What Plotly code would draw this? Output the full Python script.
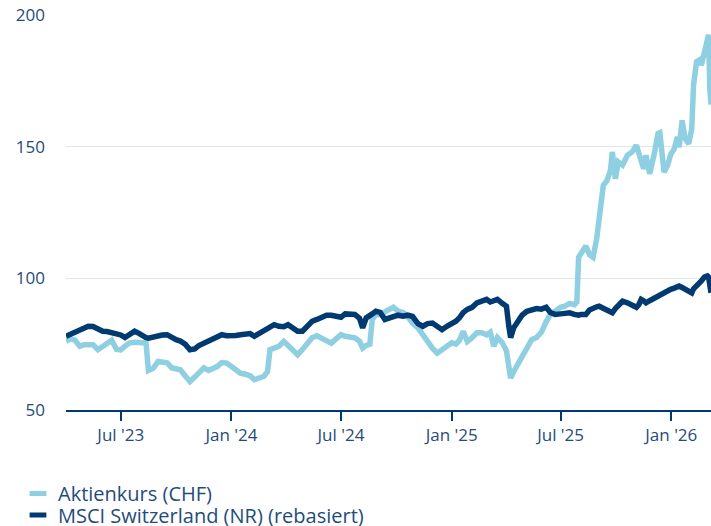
import plotly.graph_objects as go

dates = [
    "2023-04-01","2023-04-08","2023-04-16","2023-04-24",
    "2023-05-01","2023-05-08","2023-05-16","2023-05-24",
    "2023-06-01","2023-06-08","2023-06-16","2023-06-24",
    "2023-07-01","2023-07-08","2023-07-16","2023-07-24",
    "2023-08-01","2023-08-08","2023-08-12","2023-08-16","2023-08-24",
    "2023-09-01","2023-09-08","2023-09-16","2023-09-24",
    "2023-10-01","2023-10-08","2023-10-16","2023-10-24",
    "2023-11-01","2023-11-08","2023-11-16","2023-11-24",
    "2023-12-01","2023-12-08","2023-12-16","2023-12-24",
    "2024-01-01","2024-01-08","2024-01-16","2024-01-24",
    "2024-02-01","2024-02-08","2024-02-16","2024-02-24",
    "2024-03-01","2024-03-05","2024-03-12","2024-03-20","2024-03-28",
    "2024-04-04","2024-04-12","2024-04-20","2024-04-28",
    "2024-05-06","2024-05-14","2024-05-22","2024-05-30",
    "2024-06-07","2024-06-15","2024-06-23",
    "2024-07-01","2024-07-08","2024-07-16","2024-07-24",
    "2024-08-01","2024-08-06","2024-08-12","2024-08-18","2024-08-22","2024-08-28",
    "2024-09-04","2024-09-12","2024-09-20","2024-09-26",
    "2024-10-04","2024-10-12","2024-10-20","2024-10-28",
    "2024-11-06","2024-11-14","2024-11-22","2024-11-30",
    "2024-12-08","2024-12-16","2024-12-24",
    "2025-01-01","2025-01-08","2025-01-14","2025-01-20","2025-01-27",
    "2025-02-04","2025-02-12","2025-02-20","2025-02-28",
    "2025-03-06","2025-03-12","2025-03-18","2025-03-26",
    "2025-04-02","2025-04-06","2025-04-09","2025-04-14","2025-04-22","2025-04-28",
    "2025-05-06","2025-05-14","2025-05-22","2025-05-30",
    "2025-06-07","2025-06-14","2025-06-22",
    "2025-07-01","2025-07-08","2025-07-16","2025-07-24","2025-07-28","2025-07-31",
    "2025-08-04","2025-08-12","2025-08-18","2025-08-24","2025-08-30",
    "2025-09-03","2025-09-07","2025-09-10","2025-09-16","2025-09-22","2025-09-25","2025-09-30",
    "2025-10-05","2025-10-12","2025-10-20","2025-10-28",
    "2025-11-04","2025-11-08","2025-11-12","2025-11-16","2025-11-20","2025-11-26",
    "2025-12-04","2025-12-10","2025-12-13","2025-12-17","2025-12-20","2025-12-26",
    "2025-12-31","2026-01-06","2026-01-11","2026-01-14","2026-01-19","2026-01-24","2026-01-30",
    "2026-02-04","2026-02-07","2026-02-12","2026-02-17","2026-02-20","2026-02-25",
    "2026-03-02","2026-03-04","2026-03-06","2026-03-08",
]

aktienkurs = [
    76.1, 77.0, 76.5, 74.2,
    74.8, 74.8, 74.8, 72.9,
    74.2, 75.2, 76.5, 73.0,
    72.8, 74.2, 75.5, 75.7,
    75.7, 75.6, 75.4, 65.0, 65.8,
    68.4, 68.0, 67.9, 66.0,
    65.8, 65.3, 63.0, 60.8,
    62.5, 64.5, 66.0, 65.0,
    65.8, 66.5, 68.0, 67.8,
    66.5, 65.5, 64.0, 63.6,
    63.0, 61.5, 62.2, 62.8,
    64.6, 72.9, 73.5, 74.2, 76.1,
    74.5, 72.5, 71.0, 73.0,
    75.0, 77.4, 78.2, 77.3,
    76.0, 75.4, 77.0,
    78.6, 78.0, 77.6, 77.4,
    76.1, 73.5, 74.5, 75.0, 84.4, 86.3,
    86.3, 87.1, 88.0, 89.0,
    87.5, 87.0, 85.5, 83.0,
    81.2, 78.5, 75.5, 73.5,
    71.6, 73.0, 74.2,
    75.5, 75.0, 76.5, 79.9, 76.0,
    77.5, 79.3, 79.3, 78.5,
    79.5, 74.2, 77.5, 75.6,
    72.5, 65.5, 62.1, 64.6, 67.8, 70.5,
    72.9, 76.7, 77.5, 79.5,
    83.5, 86.3, 87.5,
    89.0, 89.4, 90.5, 90.0, 91.0, 108.0,
    109.8, 112.3, 109.0, 108.0, 115.0,
    122.5, 128.0, 135.3, 137.1, 141.0, 148.0, 137.8,
    144.2, 143.0, 146.7, 148.0,
    150.5, 147.0, 145.4, 141.6, 146.7, 139.7,
    147.5, 155.0, 155.3, 144.8, 140.3, 143.0,
    147.0, 149.2, 153.7, 149.8, 160.0, 153.0, 151.1,
    156.9, 173.4, 182.3, 183.0, 181.0, 186.8,
    190.0, 192.5, 172.0, 166.0,
]

msci = [
    78.0, 78.8, 79.5, 80.5,
    81.2, 81.8, 81.7, 80.8,
    79.9, 79.8, 79.5, 79.2,
    78.5, 77.5, 78.8, 79.9,
    79.0, 77.8, 77.5, 77.3, 77.8,
    78.4, 78.5, 78.6, 77.5,
    76.7, 76.2, 75.0, 72.9,
    73.2, 74.5, 75.4, 76.1,
    76.8, 77.6, 78.6, 78.2,
    78.0, 78.3, 78.6, 79.0,
    79.0, 78.0, 79.0, 79.9,
    80.8, 81.5, 82.4, 81.8, 81.6,
    82.4, 81.0, 79.9, 79.9,
    81.5, 83.7, 84.4, 85.2,
    86.0, 86.0, 85.4,
    85.2, 86.5, 86.5, 86.3,
    84.8, 81.2, 85.0, 86.3, 86.5, 87.5,
    87.1, 84.4, 85.0, 85.8,
    86.0, 85.6, 86.0, 85.5,
    82.8, 81.8, 82.8, 83.0,
    81.5, 80.5, 81.8,
    82.6, 83.7, 85.0, 87.0, 88.2,
    89.0, 90.7, 91.5, 92.0,
    91.0, 91.5, 92.0, 90.5,
    89.4, 81.8, 77.5, 81.2, 84.4, 86.0,
    87.5, 88.2, 88.5, 88.3,
    89.0, 87.0, 86.3,
    86.5, 86.9, 86.9, 86.3, 86.0, 86.0,
    86.3, 86.3, 88.0, 88.8, 89.2,
    89.4, 89.0, 88.5, 88.0, 87.0, 86.9, 88.5,
    90.0, 91.3, 90.7, 90.0,
    89.0, 90.0, 92.0, 91.5, 90.7, 91.5,
    92.6, 93.5, 93.8, 94.0, 94.5, 95.3,
    95.8, 96.3, 96.8, 97.1, 96.5, 95.8, 95.2,
    94.5, 96.0, 97.1, 98.0, 99.0, 100.5,
    100.9, 100.5, 96.0, 94.5,
]

x_tickvals = ["2023-07-01", "2024-01-01", "2024-07-01", "2025-01-01", "2025-07-01", "2026-01-01"]
x_ticktext = ["Jul '23", "Jan '24", "Jul '24", "Jan '25", "Jul '25", "Jan '26"]
y_tickvals = [50, 100, 150, 200]

names = ["Aktienkurs (CHF)", "MSCI Switzerland (NR) (rebasiert)"]
colors = ["#8ecfe2", "#003a71"]
text_color = "#1f4c7c"
font_family = "Open Sans, sans-serif"

fig = go.Figure()
fig.add_trace(go.Scatter(x=dates, y=aktienkurs, mode="lines", showlegend=False,
                         line=dict(color=colors[0], width=5.5)))
fig.add_trace(go.Scatter(x=dates, y=msci, mode="lines", showlegend=False,
                         line=dict(color=colors[1], width=5.5)))
for i, (n, c) in enumerate(zip(names, colors)):
    fig.add_trace(go.Scatter(x=[None], y=[None], mode="markers", name=n,
                             legend="legend" if i == 0 else "legend2",
                             marker=dict(symbol="line-ew", size=12, color=c,
                                         line=dict(width=5, color=c))))

legend_common = dict(orientation="v", xref="container", yref="container",
                     x=0.0253, xanchor="left", yanchor="middle",
                     font=dict(family=font_family, size=20, color=text_color),
                     itemwidth=30, bgcolor="rgba(0,0,0,0)")

fig.update_layout(
    width=711, height=526,
    margin=dict(l=66, r=0, t=15, b=116, autoexpand=False),
    paper_bgcolor="white", plot_bgcolor="white",
    font=dict(family=font_family, size=17, color=text_color),
    legend=dict(y=0.0618, **legend_common),
    legend2=dict(y=0.021, **legend_common),
    xaxis=dict(type="date", range=["2023-04-01", "2026-03-08"],
               tickvals=x_tickvals, ticktext=x_ticktext,
               showgrid=False, showline=True, linecolor="#003a71", linewidth=2,
               ticks="outside", ticklen=9, tickwidth=2, tickcolor="#003a71",
               tickfont=dict(family=font_family, size=17, color=text_color), zeroline=False),
    yaxis=dict(range=[50, 200], tickvals=y_tickvals, showgrid=True,
               gridcolor="#e1e6ec", gridwidth=1, showline=False, zeroline=False,
               ticks="", ticklabelstandoff=20,
               tickfont=dict(family=font_family, size=17, color=text_color)),
)

fig.write_html("out.html", config={"displayModeBar": False},
               post_script="document.body.style.margin='0';document.body.style.overflow='hidden';")
